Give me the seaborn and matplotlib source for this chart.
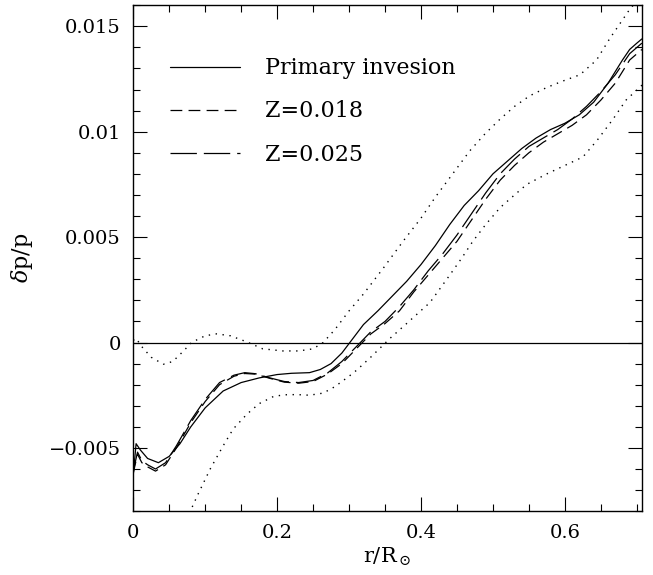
import matplotlib
matplotlib.use("Agg")
import matplotlib.pyplot as plt
import pandas as pd
import seaborn as sns
from matplotlib.ticker import MultipleLocator

# --- data --------------------------------------------------------------------
PRIM_X = [0, 0.004, 0.01, 0.02, 0.035, 0.05, 0.065, 0.08, 0.1, 0.125, 0.15, 0.175,
          0.2, 0.22, 0.245, 0.26, 0.275, 0.29, 0.3, 0.32, 0.34, 0.36, 0.38, 0.4,
          0.42, 0.44, 0.46, 0.48, 0.5, 0.52, 0.54, 0.56, 0.58, 0.6, 0.62, 0.64,
          0.66, 0.68, 0.69, 0.7, 0.707]
PRIM_Y = [-0.0063, -0.0048, -0.0051, -0.0055, -0.0057, -0.0054, -0.0048, -0.0040,
          -0.0031, -0.0023, -0.0019, -0.00168, -0.00152, -0.00146, -0.00143,
          -0.00128, -0.0010, -0.0005, -0.00005, 0.00085, 0.0015, 0.0022, 0.0029,
          0.0037, 0.0046, 0.0056, 0.0065, 0.0072, 0.0080, 0.0086, 0.0092, 0.0097,
          0.0101, 0.0104, 0.0108, 0.0114, 0.0123, 0.0134, 0.0139, 0.0142, 0.0144]

Z_X = [0, 0.006, 0.012, 0.02, 0.031, 0.045, 0.06, 0.08, 0.1, 0.12, 0.14, 0.155,
       0.17, 0.19, 0.21, 0.23, 0.25, 0.27, 0.29, 0.31, 0.33, 0.35, 0.37, 0.39,
       0.41, 0.43, 0.45, 0.47, 0.49, 0.51, 0.53, 0.55, 0.57, 0.59, 0.61, 0.63,
       0.65, 0.67, 0.69, 0.707]
Z018_Y = [-0.0062, -0.0053, -0.0057, -0.0059, -0.0061, -0.0058, -0.0050, -0.0038,
          -0.0028, -0.0020, -0.0016, -0.00147, -0.0015, -0.0017, -0.00188,
          -0.00193, -0.00185, -0.0015, -0.0010, -0.0003, 0.0004, 0.0009, 0.0015,
          0.0024, 0.0032, 0.0040, 0.0048, 0.0058, 0.0068, 0.0077, 0.0084, 0.0090,
          0.0095, 0.0099, 0.0103, 0.0108, 0.0115, 0.0123, 0.0134, 0.0139]
Z025_Y = [-0.0061, -0.0052, -0.0056, -0.0058, -0.0060, -0.0057, -0.0049, -0.0037,
          -0.0027, -0.0019, -0.00155, -0.00143, -0.00148, -0.00168, -0.00185,
          -0.0019, -0.0018, -0.00145, -0.0009, -0.0002, 0.0005, 0.0010, 0.0017,
          0.0025, 0.0034, 0.0042, 0.0051, 0.0061, 0.0071, 0.0080, 0.0087, 0.0093,
          0.0097, 0.0101, 0.0106, 0.0112, 0.0119, 0.0127, 0.0137, 0.0142]

UP_X = [0, 0.004, 0.012, 0.025, 0.042, 0.055, 0.07, 0.081, 0.1, 0.116, 0.135,
        0.158, 0.18, 0.208, 0.23, 0.25, 0.264, 0.28, 0.3, 0.32, 0.347, 0.375,
        0.4, 0.42, 0.444, 0.468, 0.489, 0.51, 0.53, 0.551, 0.575, 0.597, 0.621,
        0.644, 0.662, 0.674, 0.69, 0.71]
UP_Y = [0.0001, 0.0002, -0.0002, -0.0007, -0.00103, -0.0009, -0.0004, 0.0, 0.00032,
        0.00041, 0.00032, 0.00003, -0.0003, -0.0004, -0.0004, -0.0003, 0.0,
        0.0006, 0.0015, 0.0023, 0.0035, 0.0048, 0.0059, 0.0069, 0.0080, 0.0091,
        0.0099, 0.0106, 0.0112, 0.0117, 0.0121, 0.0124, 0.0127, 0.0134, 0.0144,
        0.0150, 0.0158, 0.0166]

LO_X = [0.078, 0.09, 0.107, 0.125, 0.139, 0.158, 0.175, 0.195, 0.21, 0.227, 0.245,
        0.264, 0.28, 0.3, 0.311, 0.33, 0.357, 0.38, 0.4125, 0.44, 0.4565, 0.472,
        0.49, 0.51, 0.53, 0.547, 0.575, 0.6, 0.625, 0.645, 0.667, 0.685, 0.71]
LO_Y = [-0.0081, -0.0072, -0.0060, -0.0049, -0.0041, -0.0034, -0.0029, -0.00256,
        -0.00248, -0.00247, -0.0025, -0.0024, -0.0021, -0.0016, -0.0013, -0.0007,
        0.0002, 0.0009, 0.0019, 0.0032, 0.0040, 0.0048, 0.0056, 0.0064, 0.0070,
        0.0075, 0.0080, 0.0084, 0.0088, 0.0096, 0.0106, 0.0115, 0.0123]

LABELS = ["Primary invesion", "Z=0.018", "Z=0.025"]
XLIM = (0, 0.707)
YLIM = (-0.008, 0.016)

# --- style -------------------------------------------------------------------
sns.set_theme(style="ticks")
plt.rcParams["font.family"] = ["DejaVu Serif"]
plt.rcParams["mathtext.fontset"] = "dejavuserif"
plt.rcParams["lines.scale_dashes"] = False
plt.rcParams["text.color"] = "black"
plt.rcParams["axes.labelcolor"] = "black"

fig = plt.figure(figsize=(6.53, 5.75), dpi=100)
ax = fig.add_axes([0.204, 0.111, 0.779, 0.880])

common = dict(color="black", sort=False, estimator=None, ax=ax)
sns.lineplot(x=PRIM_X, y=PRIM_Y, lw=0.9, label=LABELS[0], **common)
sns.lineplot(x=Z_X, y=Z018_Y, lw=0.9, linestyle=(0, (8.5, 4.5)), label=LABELS[1], **common)
sns.lineplot(x=Z_X, y=Z025_Y, lw=0.9, linestyle=(0, (19, 5)), label=LABELS[2], **common)
sns.lineplot(x=UP_X, y=UP_Y, lw=1.0, linestyle=(0, (1, 4)), **common)
sns.lineplot(x=LO_X, y=LO_Y, lw=1.0, linestyle=(0, (1, 4)), **common)
ax.axhline(0, color="black", lw=0.9)

ax.set_xlim(*XLIM)
ax.set_ylim(*YLIM)
ax.xaxis.set_major_locator(MultipleLocator(0.2))
ax.xaxis.set_minor_locator(MultipleLocator(0.05))
ax.yaxis.set_major_locator(MultipleLocator(0.005))
ax.yaxis.set_minor_locator(MultipleLocator(0.001))
ax.xaxis.set_major_formatter(lambda v, p: f"{v:g}")
ax.yaxis.set_major_formatter(lambda v, p: f"{v:g}".replace("-", "\u2212"))
ax.tick_params(which="both", direction="in", top=True, right=True,
               colors="black", width=0.8, labelsize=14, pad=9)
ax.tick_params(which="major", length=10)
ax.tick_params(which="minor", length=5)
for s in ax.spines.values():
    s.set_color("black")
    s.set_linewidth(1.0)

ax.set_xlabel(r"r/R$_\odot$", fontsize=15, labelpad=3)
ax.set_ylabel(r"$\delta$p/p", fontsize=16, labelpad=10)

leg = ax.legend(loc="upper left", bbox_to_anchor=(0.073, 0.897), frameon=False,
                fontsize=16, handlelength=3.15, handletextpad=1.1, labelspacing=0.95,
                borderpad=0, borderaxespad=0)

fig.savefig("out.png", dpi=100)
